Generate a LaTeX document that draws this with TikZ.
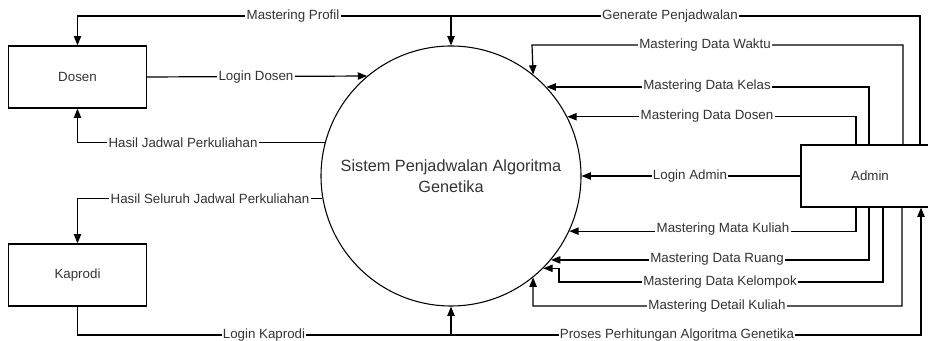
\documentclass[tikz,border=0pt]{standalone}
\usepackage{fontspec}
\setmainfont{Liberation Sans}
\usetikzlibrary{arrows.meta}
\definecolor{txt}{HTML}{333333}
\tikzset{
  ent/.style={draw, line width=0.9pt, minimum width=103pt, minimum height=46.5pt, inner sep=0pt, font=\fontsize{10}{12}\selectfont, text=txt},
  proc/.style={circle, draw, line width=0.8pt, minimum size=195pt, inner sep=0pt, align=center, font=\fontsize{12.2}{15.5}\selectfont, text=txt},
  flow/.style={line width=0.9pt, -{Triangle[length=7pt,width=5.5pt]}},
  lbl/.style={fill=white, inner xsep=1pt, inner ysep=0pt, text height=7.2pt, text depth=2pt, font=\fontsize{10}{12}\selectfont, text=txt}
}
\begin{document}
\begin{tikzpicture}[x=0.75pt,y=-0.75pt]
\useasboundingbox (0,0) rectangle (928,341);
\clip (0,0) rectangle (928,341);
\node[ent] (dosen) at (77.5,77) {Dosen};
\node[ent] (kaprodi) at (77.5,275) {Kaprodi};
\node[ent, minimum width=103.5pt] (admin) at (870,176) {Admin};
\node[proc] (sys) at (451,176) {Sistem Penjadwalan Algoritma\\Genetika};
\coordinate (top) at (451,16);
\coordinate (bot) at (451,335);
\coordinate (wk) at (532,45);
\coordinate (kp) at (559,282);
\coordinate (dt) at (533,306);
\coordinate (tapgen) at (920,0);
\coordinate (tapwaktu) at (903,0);
\coordinate (tapkelas) at (869,0);
\coordinate (tapdosen) at (856,0);
\coordinate (tapkelompok) at (883,0);
\coordinate (tapdetail) at (902,0);
\coordinate (tapproses) at (921,0);
\draw[flow] (admin.north -| tapgen) |- (top) -| (dosen.north);
\draw[flow] (top) -- (sys.north);
\draw[flow] (dosen.east) -- (sys.130.4);
\draw[flow] (sys.165.8) -| (dosen.south);
\draw[flow] (sys.190.6) -| (kaprodi.north);
\draw[flow] (kaprodi.south) |- (bot) -| (admin.south -| tapproses);
\draw[flow] (bot) -- (sys.south);
\draw[flow] (admin.north -| tapwaktu) |- (wk) -- (sys.51.5);
\draw[flow] (admin.north -| tapkelas) |- (sys.43.8);
\draw[flow] (admin.north -| tapdosen) |- (sys.27.5);
\draw[flow] (admin.west) -- (sys.east);
\draw[flow] (admin.south -| tapdosen) |- (sys.335.9);
\draw[flow] (admin.south -| tapkelas) |- (sys.320.3);
\draw[flow] (admin.south -| tapkelompok) |- (kp) |- (sys.315);
\draw[flow] (admin.south -| tapdetail) |- (dt) -- (sys.309.1);
\node[lbl] (lprofil) at (293,16) {Mastering Profil};
\node[lbl] (lgen) at (670,16) {Generate Penjadwalan};
\node[lbl] (ldosen) at (256,77) {Login Dosen};
\node[lbl] (lhasil) at (183,144) {Hasil Jadwal Perkuliahan};
\node[lbl] (lseluruh) at (210,200) {Hasil Seluruh Jadwal Perkuliahan};
\node[lbl] (lkaprodi) at (264,335) {Login Kaprodi};
\node[lbl] (lproses) at (677,335) {Proses Perhitungan Algoritma Genetika};
\node[lbl] (lwaktu) at (705,45) {Mastering Data Waktu};
\node[lbl] (lkelas) at (707,86) {Mastering Data Kelas};
\node[lbl] (lmdosen) at (707,116) {Mastering Data Dosen};
\node[lbl] (ladmin) at (690,176) {Login Admin};
\node[lbl] (lmatkul) at (723,229) {Mastering Mata Kuliah};
\node[lbl] (lruang) at (717,259) {Mastering Data Ruang};
\node[lbl] (lkelompok) at (720,282) {Mastering Data Kelompok};
\node[lbl] (ldetail) at (717,306) {Mastering Detail Kuliah};
\end{tikzpicture}
\end{document}
